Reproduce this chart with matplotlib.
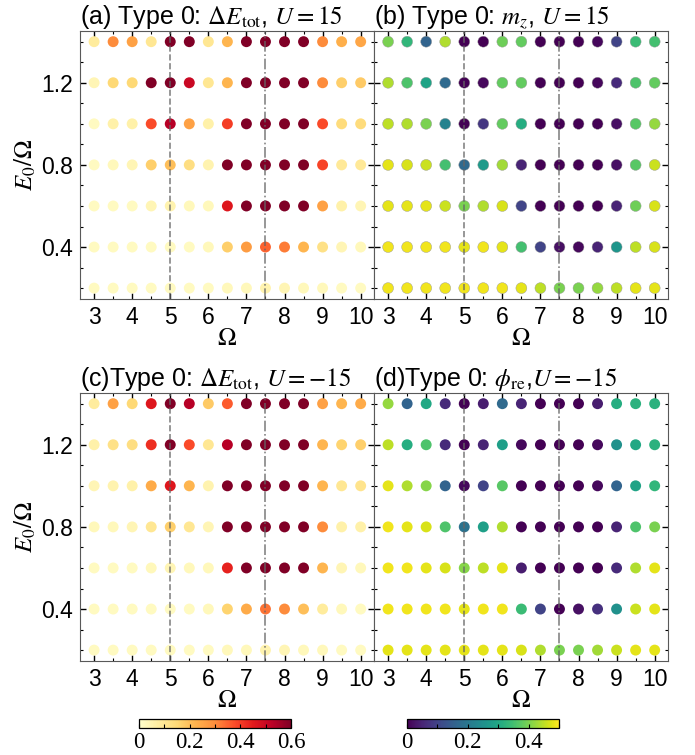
import matplotlib
matplotlib.use("Agg")
import matplotlib.pyplot as plt
import numpy as np
from matplotlib.ticker import MultipleLocator

plt.rcParams['font.family'] = ['Liberation Sans', 'DejaVu Sans']
plt.rcParams['mathtext.fontset'] = 'stix'

# grid of drive frequencies and field strengths
omega = np.arange(3.0, 10.01, 0.5)
e0 = [1.4, 1.2, 1.0, 0.8, 0.6, 0.4, 0.2]

# (a) energy change, U = 15 (rows follow e0, top to bottom)
dE_pos = [
    [0.08, 0.30, 0.26, 0.10, 0.60, 0.60, 0.10, 0.22, 0.60, 0.60, 0.60, 0.60, 0.30, 0.23, 0.25],
    [0.04, 0.15, 0.15, 0.60, 0.60, 0.50, 0.10, 0.22, 0.60, 0.60, 0.60, 0.60, 0.30, 0.17, 0.18],
    [0.02, 0.06, 0.06, 0.38, 0.53, 0.26, 0.06, 0.40, 0.60, 0.60, 0.60, 0.60, 0.38, 0.14, 0.14],
    [0.02, 0.03, 0.04, 0.17, 0.20, 0.13, 0.05, 0.60, 0.60, 0.60, 0.60, 0.60, 0.39, 0.09, 0.09],
    [0.02, 0.02, 0.02, 0.04, 0.05, 0.03, 0.03, 0.46, 0.60, 0.60, 0.60, 0.60, 0.26, 0.06, 0.04],
    [0.02, 0.02, 0.02, 0.02, 0.02, 0.02, 0.03, 0.17, 0.27, 0.35, 0.32, 0.22, 0.12, 0.04, 0.03],
    [0.02, 0.02, 0.02, 0.02, 0.02, 0.02, 0.02, 0.03, 0.03, 0.05, 0.04, 0.03, 0.03, 0.02, 0.02],
]

# (b) magnetisation m_z, U = 15
mz_pos = [
    [0.40, 0.33, 0.16, 0.44, 0.00, 0.00, 0.39, 0.38, 0.00, 0.00, 0.00, 0.01, 0.10, 0.34, 0.35],
    [0.44, 0.36, 0.29, 0.17, 0.00, 0.01, 0.38, 0.38, 0.00, 0.00, 0.00, 0.01, 0.06, 0.36, 0.38],
    [0.45, 0.44, 0.40, 0.22, 0.00, 0.08, 0.38, 0.31, 0.00, 0.00, 0.00, 0.00, 0.02, 0.37, 0.42],
    [0.48, 0.47, 0.46, 0.35, 0.17, 0.27, 0.43, 0.05, 0.00, 0.00, 0.00, 0.00, 0.02, 0.37, 0.46],
    [0.48, 0.48, 0.48, 0.46, 0.40, 0.44, 0.47, 0.10, 0.00, 0.00, 0.00, 0.00, 0.05, 0.39, 0.47],
    [0.49, 0.49, 0.49, 0.49, 0.48, 0.49, 0.48, 0.35, 0.10, 0.02, 0.01, 0.05, 0.26, 0.45, 0.47],
    [0.49, 0.49, 0.49, 0.49, 0.49, 0.49, 0.49, 0.48, 0.45, 0.40, 0.40, 0.42, 0.45, 0.48, 0.48],
]

# (c) energy change, U = -15
dE_neg = [
    [0.08, 0.26, 0.15, 0.46, 0.60, 0.53, 0.18, 0.36, 0.60, 0.60, 0.60, 0.60, 0.26, 0.22, 0.24],
    [0.06, 0.12, 0.13, 0.42, 0.60, 0.38, 0.10, 0.53, 0.60, 0.60, 0.60, 0.60, 0.22, 0.16, 0.17],
    [0.04, 0.05, 0.06, 0.24, 0.46, 0.22, 0.05, 0.60, 0.60, 0.60, 0.60, 0.60, 0.22, 0.10, 0.11],
    [0.03, 0.03, 0.04, 0.10, 0.17, 0.10, 0.04, 0.60, 0.60, 0.60, 0.60, 0.60, 0.30, 0.06, 0.06],
    [0.02, 0.02, 0.02, 0.03, 0.04, 0.03, 0.03, 0.44, 0.60, 0.60, 0.60, 0.60, 0.22, 0.04, 0.03],
    [0.02, 0.02, 0.02, 0.02, 0.02, 0.02, 0.03, 0.16, 0.24, 0.33, 0.30, 0.20, 0.08, 0.03, 0.02],
    [0.02, 0.02, 0.02, 0.02, 0.02, 0.02, 0.02, 0.03, 0.03, 0.05, 0.04, 0.03, 0.03, 0.02, 0.02],
]

# (d) pairing amplitude phi_re, U = -15
phi_neg = [
    [0.42, 0.16, 0.30, 0.06, 0.00, 0.04, 0.17, 0.05, 0.00, 0.00, 0.00, 0.04, 0.31, 0.32, 0.32],
    [0.45, 0.31, 0.36, 0.06, 0.00, 0.05, 0.28, 0.01, 0.00, 0.00, 0.00, 0.01, 0.25, 0.30, 0.32],
    [0.48, 0.44, 0.41, 0.16, 0.01, 0.10, 0.37, 0.00, 0.00, 0.00, 0.00, 0.01, 0.16, 0.29, 0.33],
    [0.49, 0.48, 0.47, 0.36, 0.19, 0.28, 0.44, 0.00, 0.00, 0.00, 0.00, 0.00, 0.05, 0.36, 0.40],
    [0.49, 0.49, 0.48, 0.47, 0.41, 0.45, 0.48, 0.04, 0.00, 0.00, 0.00, 0.00, 0.06, 0.44, 0.48],
    [0.49, 0.49, 0.49, 0.49, 0.48, 0.49, 0.49, 0.34, 0.10, 0.00, 0.02, 0.07, 0.25, 0.46, 0.48],
    [0.48, 0.48, 0.48, 0.48, 0.48, 0.48, 0.48, 0.47, 0.44, 0.40, 0.40, 0.43, 0.46, 0.48, 0.48],
]

titles = [
    r"(a) Type 0: $\Delta E_{\rm tot}$, $U=15$",
    r"(b) Type 0: $m_z$, $U=15$",
    r"(c)Type 0: $\Delta E_{\rm tot}$, $U=-15$",
    r"(d)Type 0: $\phi_{\rm re}$,$U=-15$",
]
panels = [dE_pos, mz_pos, dE_neg, phi_neg]
cmaps = ['YlOrRd', 'viridis', 'YlOrRd', 'viridis']
vmaxs = [0.6, 0.5, 0.6, 0.5]

fig = plt.figure(figsize=(6.95, 7.55), dpi=100)
W, H = 695.0, 755.0
boxes = [(80, 31), (374, 31), (80, 393), (374, 393)]
aw, ah = 294, 268

X, Y = np.meshgrid(omega, e0)
scs = []
for i, (x0, y0) in enumerate(boxes):
    ax = fig.add_axes([x0 / W, 1 - (y0 + ah) / H, aw / W, ah / H])
    vals = np.array(panels[i])
    edge = '0.6' if i == 1 else 'none'
    sc = ax.scatter(X.ravel(), Y.ravel(), c=vals.ravel(), cmap=cmaps[i],
                    vmin=0, vmax=vmaxs[i], s=62, edgecolors=edge, linewidths=0.3,
                    zorder=2)
    scs.append(sc)
    ax.axvline(5.0, color='0.4', ls='--', lw=1.2, alpha=0.8, zorder=3)
    ax.axvline(7.5, color='0.4', ls='-.', lw=1.2, alpha=0.8, zorder=3)
    ax.set_xlim(2.63, 10.35)
    ax.set_ylim(0.147, 1.452)
    ax.xaxis.set_major_locator(MultipleLocator(1))
    ax.xaxis.set_minor_locator(MultipleLocator(0.5))
    ax.yaxis.set_minor_locator(MultipleLocator(0.1))
    ax.set_yticks([0.4, 0.8, 1.2])
    ax.tick_params(which='both', direction='in', top=True, right=True,
                   labelsize=16.5, color='black')
    ax.tick_params(which='major', length=4, width=1, pad=5)
    ax.tick_params(which='minor', length=2.5, width=0.8)
    for sp in ax.spines.values():
        sp.set_color('0.35')
    if i % 2 == 1:
        ax.tick_params(labelleft=False)
    else:
        ax.set_ylabel(r"$E_0/\Omega$", fontsize=18, labelpad=2)
    ax.set_xlabel(r"$\Omega$", fontsize=18, labelpad=-2)
    ax.set_title(titles[i], loc='left', fontsize=18, pad=3)

# horizontal colour bars under the bottom row
cb_boxes = [(139, [0, 0.2, 0.4, 0.6]), (407, [0, 0.2, 0.4])]
for k, (cx, ticks) in enumerate(cb_boxes):
    cax = fig.add_axes([cx / W, 1 - 728 / H, 152 / W, 9 / H])
    cb = fig.colorbar(scs[k], cax=cax, orientation='horizontal')
    cb.set_ticks(ticks)
    cb.set_ticklabels(['0' if t == 0 else f"{t:g}" for t in ticks])
    cax.xaxis.set_minor_locator(MultipleLocator(0.1))
    cax.tick_params(which='both', direction='in', length=3, width=0.8, pad=3)
    cb.outline.set_linewidth(0.9)
    for lab in cax.get_xticklabels():
        lab.set_fontfamily('Liberation Serif')
        lab.set_fontsize(16.5)

fig.savefig("out.png", dpi=100)
